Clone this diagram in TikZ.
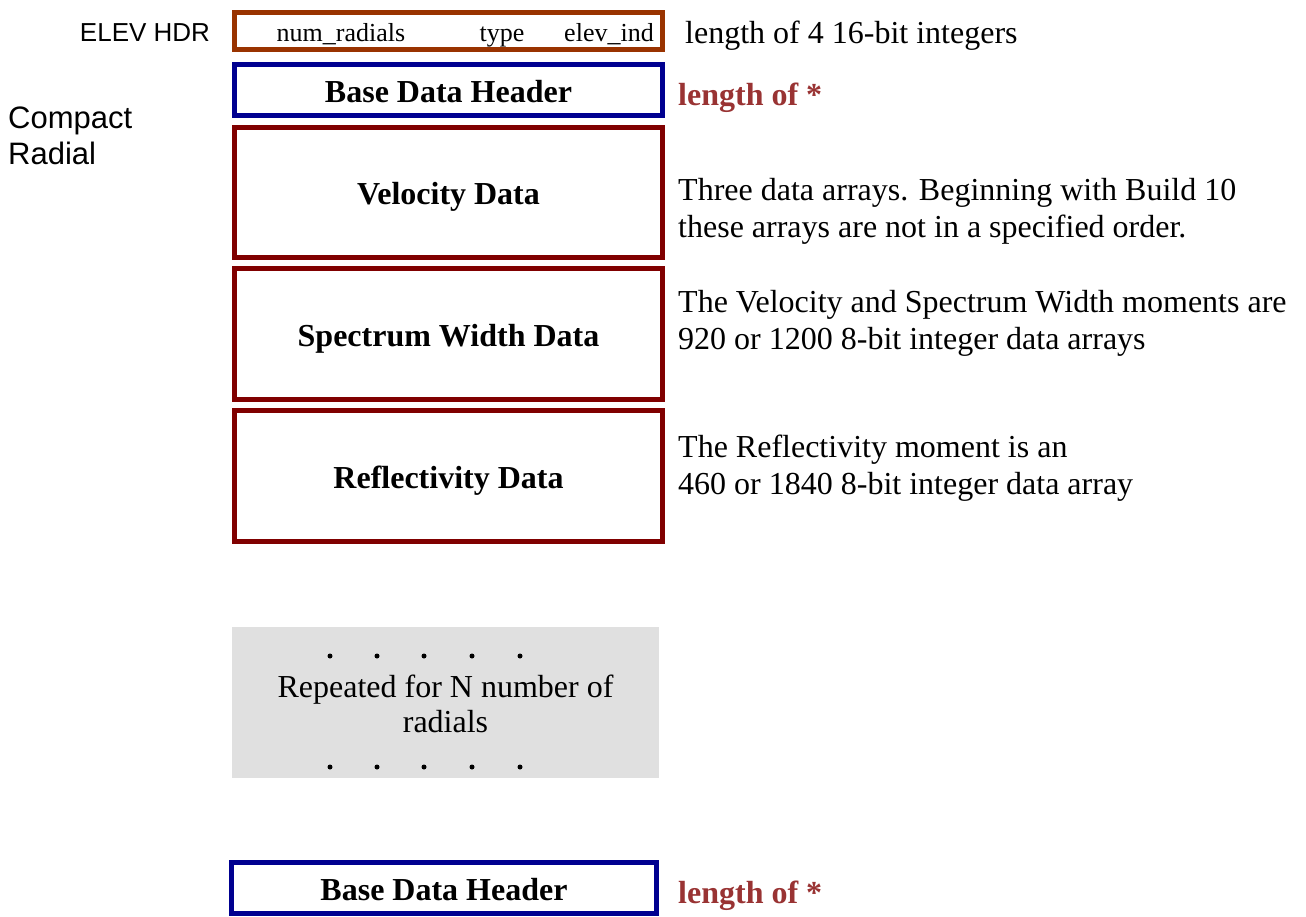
\documentclass[tikz,border=0pt]{standalone}
\usepackage{fontspec}
\setmainfont{Liberation Serif}
\newfontfamily\arialfont{Liberation Sans}
\definecolor{elevbrown}{HTML}{993300}
\definecolor{hdrnavy}{HTML}{000090}
\definecolor{datared}{HTML}{800000}
\definecolor{lenred}{HTML}{993333}
\definecolor{repgray}{HTML}{E0E0E0}
\begin{document}
\begin{tikzpicture}[x=1pt,y=-1pt,
  boxbase/.style={draw, line width=5pt, inner sep=0pt, minimum width=428pt, align=center, text height=24pt, text depth=0pt},
  elevbox/.style={draw=elevbrown, line width=5pt, inner sep=0pt, minimum width=428pt, minimum height=37pt},
  hdrbox/.style={boxbase, draw=hdrnavy, minimum height=51pt, font=\fontsize{32}{36}\selectfont\bfseries},
  databox/.style={boxbase, draw=datared, minimum height=130pt, font=\fontsize{32}{36}\selectfont\bfseries},
  smalltxt/.style={inner sep=0pt, anchor=base, font=\fontsize{26}{30}\selectfont},
  sidetxt/.style={anchor=west, inner sep=0pt, align=left, font=\fontsize{32}{37}\selectfont},
  lentxt/.style={anchor=west, inner sep=0pt, text=lenred, font=\fontsize{32}{36}\selectfont\bfseries},
  sanstxt/.style={inner sep=0pt, align=left, font=\arialfont\fontsize{31}{36}\selectfont},
]
\useasboundingbox (0,0) rectangle (1306,916);
\fill[white] (0,0) rectangle (1306,916);

% left labels
\node[sanstxt, anchor=center, font=\arialfont\fontsize{26}{30}\selectfont] (elevlbl) at (145,33) {ELEV HDR};
\node[sanstxt, anchor=north west] (cradial) at (8,107) {Compact\\Radial};

% ELEV HDR box
\node[elevbox] (elev) at (448.5,31) {};
\node[smalltxt] (numrad) at (341,41) {num\_radials};
\node[smalltxt] (typ) at (502,41) {type};
\node[smalltxt] (elevind) at (609,41) {elev\_ind};
\node[sidetxt] (elevlen) at (685,36) {length of 4 16-bit integers};

% Base data header
\node[hdrbox] (bdh) at (448.5,90) {Base Data Header};
\node[lentxt] (bdhlen) at (678,98) {length of *};

% data boxes
\node[databox] (vel) at (448.5,192.5) {Velocity Data};
\node[databox, minimum height=131pt] (spw) at (448.5,334) {Spectrum Width Data};
\node[databox, minimum height=131pt] (refl) at (448.5,476) {Reflectivity Data};

\node[sidetxt] (veltxt) at (678,211.5) {Three data arrays. Beginning with Build 10\\these arrays are not in a specified order.};
\node[sidetxt] (spwtxt) at (678,323.5) {The Velocity and Spectrum Width moments are\\920 or 1200 8-bit integer data arrays};
\node[sidetxt] (refltxt) at (678,468.5) {The Reflectivity moment is an\\460 or 1840 8-bit integer data array};

% repeated region
\node[fill=repgray, inner sep=0pt, minimum width=427pt, minimum height=151pt] (rep) at (445.5,702.5) {};
\node[inner sep=0pt, align=center, font=\fontsize{32}{35}\selectfont] (reptxt) at (445.5,704) {Repeated for N number of\\radials};
\foreach \dx in {330,377,424,472,520}{
  \fill (\dx,656) circle (2.5pt);
  \fill (\dx,767) circle (2.5pt);
}

% bottom header
\node[hdrbox, minimum width=425pt] (bdh2) at (444,888) {Base Data Header};
\node[lentxt] (bdh2len) at (678,896) {length of *};
\end{tikzpicture}
\end{document}
